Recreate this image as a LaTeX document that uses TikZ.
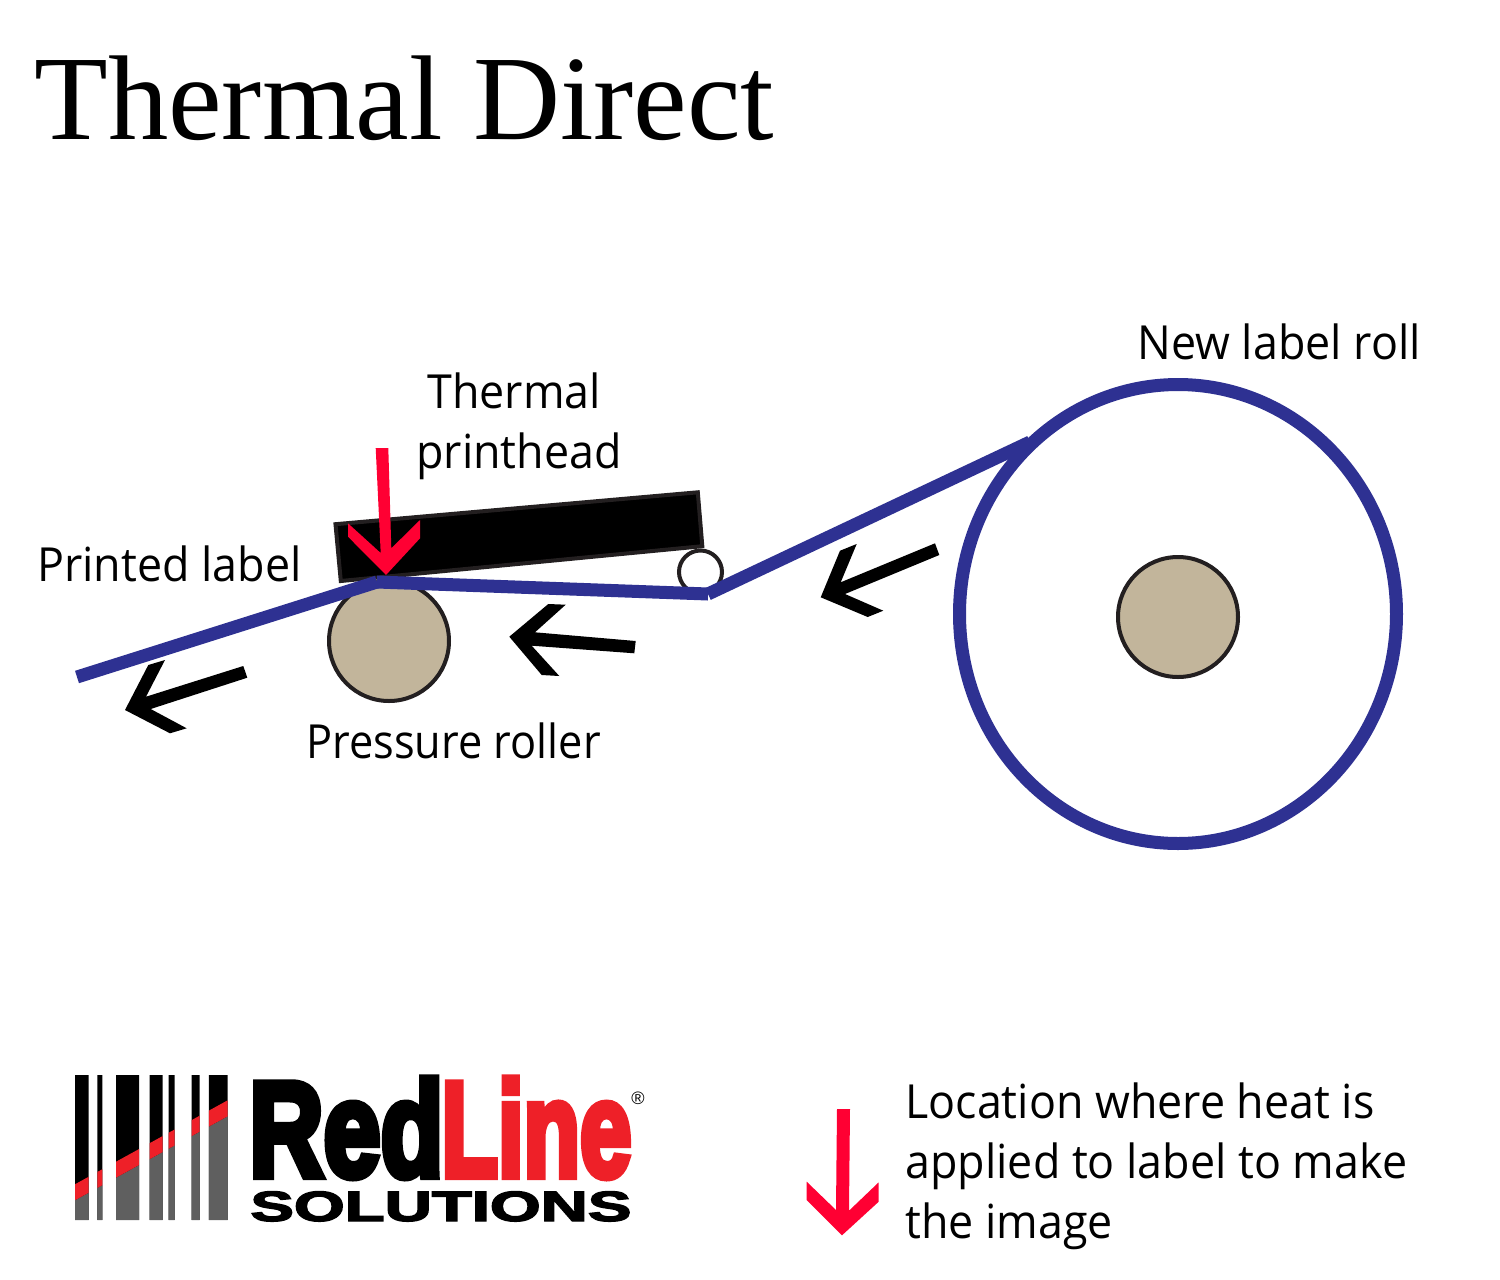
\documentclass[tikz,border=0pt]{standalone}
\usepackage{fontspec}
\usepackage{graphicx}
\setmainfont{Liberation Serif}
\newfontfamily\bodyfont[FakeStretch=0.953]{Open Sans}
\newfontfamily\logofont[FakeBold=6]{Liberation Sans Bold}
\newfontfamily\logofontb[FakeBold=3]{Liberation Sans Bold}
\newfontfamily\regfont{Liberation Sans}
\definecolor{rollblue}{HTML}{2E3192}
\definecolor{rollertan}{HTML}{C2B59B}
\definecolor{inkdark}{HTML}{231F20}
\definecolor{heatred}{HTML}{FF0033}
\definecolor{logored}{HTML}{EE2028}
\definecolor{logogray}{HTML}{5F5F5F}
\tikzset{
 lbl/.style={anchor=base west,inner sep=0,font=\bodyfont\fontsize{23.5}{30}\selectfont,text=black},
 roller/.style={circle,draw=inkdark,line width=2pt,inner sep=0,fill=rollertan},
 web/.style={draw=rollblue,line width=6.5pt},
}
\begin{document}
\begin{tikzpicture}[x=0.5pt,y=-0.5pt]
\useasboundingbox (0,0) rectangle (1500,1280);
\node[anchor=base west,inner sep=0,font=\fontsize{60.3}{70}\selectfont] (title) at (34,139) {Thermal Direct};
% rollers
\node[roller,fill=white,minimum size=21.5pt] (small) at (700.5,572) {};
\node[roller,minimum size=60pt] (press) at (389,641) {};
\node[roller,minimum size=60pt] (hub) at (1178,617) {};
\draw[draw=rollblue,line width=6.5pt] (1178,614) ellipse [x radius=218.5,y radius=229.5];
% printhead
\draw[fill=black,draw=inkdark,line width=2pt] (335.5,524.2)--(697.8,492.3)--(702.3,546.2)--(340.8,581)--cycle;
% label web
\coordinate (w0) at (77,677);
\coordinate (w1) at (377,582);
\coordinate (w2) at (708,594);
\coordinate (w3) at (1030,442);
\draw[web] (w0)--(w1);
\draw[web] (w1)--(w2);
\draw[web] (w2)--(w3);
% heat arrow
\fill[heatred] (375.7,448)--(388.3,448)--(391.3,548.3)--(420,520)--(420,538.3)--(386,575)--(348,536.7)--(348,523.3)--(380.7,553)--cycle;
% direction arrows
\fill[black] (509.3,636.7)--(548.3,604)--(565.7,604.7)--(535,632.3)--(635.7,641)--(634.3,653.3)--(531.7,645.7)--(559.3,676)--(541.7,675)--cycle;
\fill[black] (125,710)--(148.3,665)--(165,660)--(146,696.7)--(243.3,666)--(247.3,677.7)--(150.7,709)--(186.7,728.3)--(170,733.3)--cycle;
\fill[black] (820.7,597.3)--(840,550.7)--(856.7,544)--(840.7,582.3)--(935,543.3)--(939.3,555)--(845,594)--(883.3,610.7)--(867.7,617)--cycle;
% labels
\node[lbl] (newroll) at (1137,359.5) {New label roll};
\node[lbl] (thermal) at (427,408.5) {Thermal};
\node[lbl] (printhead) at (416,468.5) {printhead};
\node[lbl] (printed) at (37,581.5) {Printed label};
\node[lbl] (pressure) at (306,758.5) {\scalebox{0.967}[1]{Pressure roller}};
% legend
\fill[heatred] (837,1109)--(850,1109)--(849,1210.7)--(878.7,1182.3)--(878.7,1201.7)--(842,1235.3)--(806.7,1200)--(806.7,1181.7)--(836,1210)--cycle;
\node[lbl] (leg1) at (905,1118) {Location where heat is};
\node[lbl] (leg2) at (905,1178) {applied to label to make};
\node[lbl] (leg3) at (905,1238) {the image};
% logo barcode
\begin{scope}
\clip (75,1075) rectangle (88.5,1220) (97.3,1075) rectangle (102.3,1220) (116.2,1075) rectangle (139.2,1220) (149.6,1075) rectangle (162.7,1220) (168.5,1075) rectangle (174.6,1220) (191.5,1075) rectangle (199.6,1220) (208.8,1075) rectangle (227.7,1220);
\fill[black] (70,1075) rectangle (230,1220);
\fill[logogray] (70,1203)--(230,1115)--(230,1225)--(70,1225)--cycle;
\fill[logored] (70,1187)--(230,1099)--(230,1115)--(70,1203)--cycle;
\end{scope}
\node[anchor=north west,inner sep=0] (red) at (249,1078) {\resizebox*{97pt}{49.5pt}{\logofont Red}};
\node[anchor=north west,inner sep=0,text=logored] (line) at (441,1078) {\resizebox*{95pt}{49.5pt}{\logofont Line}};
\node[anchor=north west,inner sep=0] (sol) at (250,1191) {\resizebox*{190.5pt}{15pt}{\logofontb SOLUTIONS}};
\node[inner sep=0,font=\regfont\fontsize{9}{9}\selectfont] (reg) at (638,1098) {®};
\end{tikzpicture}
\end{document}
